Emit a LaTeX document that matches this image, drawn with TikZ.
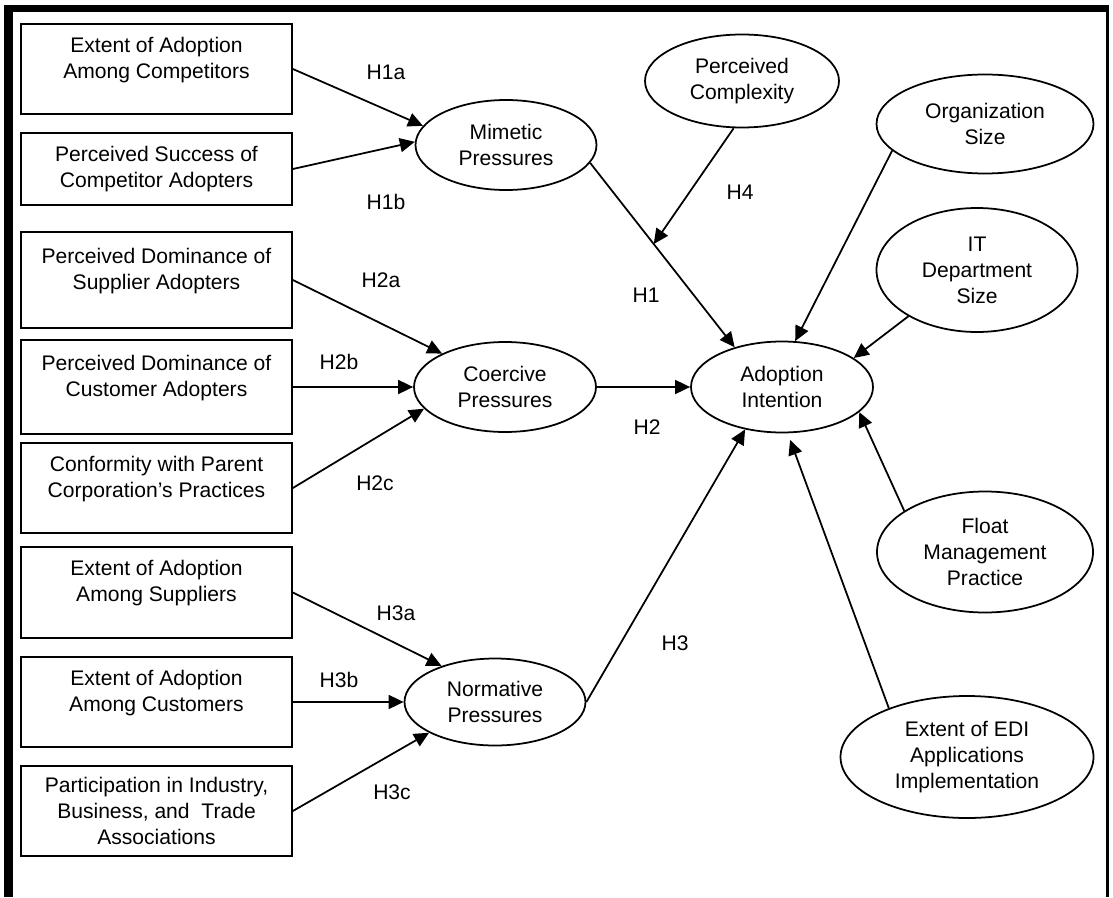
\documentclass[tikz,border=0pt]{standalone}
\usepackage{fontspec}
\setmainfont{Liberation Sans}
\usetikzlibrary{shapes.geometric,arrows.meta}

\begin{document}
\begin{tikzpicture}[
    x=1cm,
    y=1cm,
    font=\fontsize{12}{14.8}\selectfont,
    factor/.style={draw, line width=1pt, minimum width=5.42cm, align=center, inner sep=0pt},
    construct/.style={draw, ellipse, line width=1pt, align=center, inner sep=0pt},
    link/.style={line width=1pt, -{Triangle[length=0.3cm, width=0.28cm]}},
    tag/.style={inner sep=0pt}
]
\useasboundingbox (0,0) rectangle (22.26,17.94);
\fill (0.08,0) rectangle (0.25,17.84);
\fill (0.08,17.69) rectangle (22.18,17.84);
\fill (22.11,0) rectangle (22.18,17.84);

% antecedents
\node[factor, minimum height=1.8cm] (compadopt) at (3.13,16.56) {Extent of Adoption\\Among Competitors\\[-2pt]~};
\node[factor, minimum height=1.44cm] (compsucc) at (3.13,14.56) {Perceived Success of\\Competitor Adopters};
\node[factor, minimum height=1.92cm] (suppdom) at (3.13,12.34) {Perceived Dominance of\\Supplier Adopters\\[-2pt]~};
\node[factor, minimum height=1.88cm] (custdom) at (3.13,10.20) {Perceived Dominance of\\Customer Adopters\\[-2pt]~};
\node[factor, minimum height=1.8cm] (parent) at (3.13,8.18) {Conformity with Parent\\Corporation’s Practices\\[-2pt]~};
\node[factor, minimum height=1.82cm] (suppadopt) at (3.13,6.09) {Extent of Adoption\\Among Suppliers\\[-2pt]~};
\node[factor, minimum height=1.8cm] (custadopt) at (3.13,3.90) {Extent of Adoption\\Among Customers\\[-2pt]~};
\node[factor, minimum height=1.8cm] (assoc) at (3.13,1.72) {Participation in Industry,\\Business, and~ Trade\\Associations};

% pressures and other constructs
\node[construct, minimum width=3.62cm, minimum height=1.8cm] (mim) at (10.12,15.04) {Mimetic\\Pressures};
\node[construct, minimum width=3.64cm, minimum height=1.8cm] (coe) at (10.10,10.20) {Coercive\\Pressures};
\node[construct, minimum width=3.62cm, minimum height=1.74cm] (nor) at (9.90,3.90) {Normative\\Pressures};
\node[construct, minimum width=3.88cm, minimum height=1.86cm] (com) at (14.84,16.32) {Perceived\\Complexity};
\node[construct, minimum width=4.34cm, minimum height=1.98cm] (org) at (19.70,15.46) {Organization\\Size};
\node[construct, minimum width=4.02cm, minimum height=2.48cm] (its) at (19.54,12.54) {IT\\Department\\Size};
\node[construct, minimum width=3.64cm, minimum height=1.82cm] (ado) at (15.64,10.20) {Adoption\\Intention};
\node[construct, minimum width=4.32cm, minimum height=2.42cm] (flo) at (19.70,6.90) {Float\\Management\\Practice};
\node[construct, minimum width=5.06cm, minimum height=2.44cm] (edi) at (19.34,2.80) {Extent of EDI\\Applications\\Implementation};

% hypotheses
\draw[link] (compadopt.east) -- (mim.167);
\draw[link] (compsucc.east) -- (mim.178);
\draw[link] (suppdom.east) -- (coe.152);
\draw[link] (custdom.east) -- (coe.west);
\draw[link] (parent.east) -- (coe.195);
\draw[link] (suppadopt.east) -- (nor.146);
\draw[link] (custadopt.east) -- (nor.west);
\draw[link] (assoc.east) -- (nor.205);
\draw[link] (mim.348) -- (ado.140);
\path (mim.348) -- (ado.140) coordinate[pos=0.44] (hone);
\draw[link] (com.260) -- (hone);
\draw[link] (coe.east) -- (ado.west);
\draw[link] (nor.east) -- (ado.229);
\draw[link] (org.196) -- (ado.74);
\draw[link] (its.214) -- (ado.22);
\draw[link] (flo.153) -- (ado.342);
\draw[link, shorten >=0.14cm] (edi.148) -- (ado.277);

\node[tag] (h1a) at (7.72,16.50) {H1a};
\node[tag] (h1b) at (7.72,13.90) {H1b};
\node[tag] (h2a) at (7.62,12.34) {H2a};
\node[tag] (h2b) at (6.78,10.70) {H2b};
\node[tag] (h2c) at (7.50,8.28) {H2c};
\node[tag] (h3a) at (7.92,5.68) {H3a};
\node[tag] (h3b) at (6.78,4.34) {H3b};
\node[tag] (h3c) at (7.84,2.10) {H3c};
\node[tag] (h4) at (14.80,14.10) {H4};
\node[tag] (h1) at (12.92,12.04) {H1};
\node[tag] (h2) at (12.94,9.40) {H2};
\node[tag] (h3) at (13.50,5.08) {H3};
\end{tikzpicture}
\end{document}
